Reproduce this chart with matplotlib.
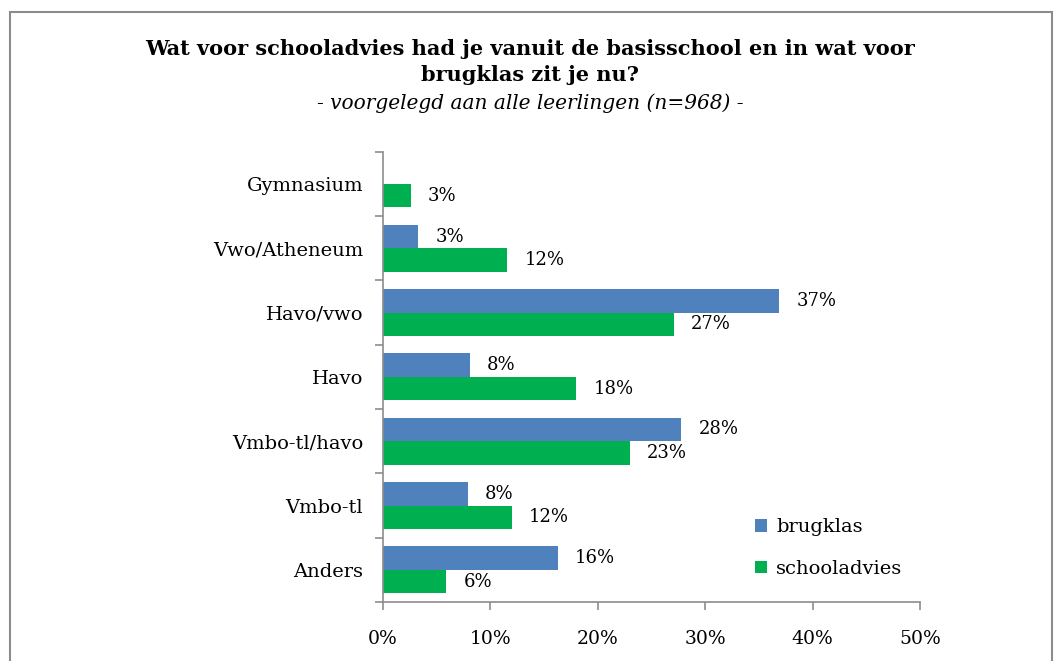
import matplotlib.pyplot as plt
import numpy as np
from matplotlib.patches import Rectangle

categories = ['Gymnasium', 'Vwo/Atheneum', 'Havo/vwo', 'Havo', 'Vmbo-tl/havo', 'Vmbo-tl', 'Anders']
brugklas = [np.nan, 3.3, 36.9, 8.1, 27.8, 7.9, 16.3]
schooladvies = [2.6, 11.6, 27.1, 18.0, 23.0, 12.0, 5.9]
xticks = [0, 10, 20, 30, 40, 50]

plt.rcParams['font.family'] = ['DejaVu Serif']

fig = plt.figure(figsize=(10.63, 6.61), dpi=100)
ax = fig.add_axes([0.360, 0.0893, 0.5055, 0.681])

# chart frame
fig.patches.append(Rectangle((10 / 1063, -0.1), 1042 / 1063, 1.1 - 12 / 661,
                             transform=fig.transFigure, fill=False,
                             edgecolor='#8c8c8c', linewidth=1.5))

n = len(categories)
y = np.arange(n)
h = 0.365
blue = '#4F81BD'
green = '#00B050'

ax.barh(y - h / 2, brugklas, h, color=blue, label='brugklas')
ax.barh(y + h / 2, schooladvies, h, color=green, label='schooladvies')

for yy, v in zip(y, brugklas):
    if not np.isnan(v):
        ax.text(v + 1.6, yy - h / 2, '%d%%' % round(v), va='center', ha='left', fontsize=13)
for yy, v in zip(y, schooladvies):
    ax.text(v + 1.6, yy + h / 2, '%d%%' % round(v), va='center', ha='left', fontsize=13)

ax.set_ylim(n - 0.5, -0.5)
ax.set_xlim(0, 50)
ax.set_yticks(np.arange(n + 1) - 0.5)
ax.set_yticklabels([])
ax.set_yticks(y, minor=True)
ax.set_yticklabels(categories, minor=True, fontsize=14)
ax.tick_params(axis='y', which='minor', length=0, pad=14)
ax.tick_params(axis='y', which='major', length=6, color='#8c8c8c', width=1.2)
ax.set_xticks(xticks)
ax.set_xticklabels(['%d%%' % t for t in xticks], fontsize=13.5)
ax.tick_params(axis='x', length=6, color='#8c8c8c', width=1.2, pad=14)

for s in ['top', 'right']:
    ax.spines[s].set_visible(False)
for s in ['left', 'bottom']:
    ax.spines[s].set_color('#8c8c8c')
    ax.spines[s].set_linewidth(1.2)

ax.legend(loc='lower right', bbox_to_anchor=(1.0, 0.015), frameon=False, fontsize=14,
          handlelength=0.6, handleheight=0.6, handletextpad=0.5, labelspacing=1.2)

fig.text(0.499, 0.906, 'Wat voor schooladvies had je vanuit de basisschool en in wat voor\nbrugklas zit je nu?',
         ha='center', va='center', fontsize=15, fontweight='bold', linespacing=1.35)
fig.text(0.499, 0.844, '- voorgelegd aan alle leerlingen (n=968) -', ha='center', va='center',
         fontsize=14.5, style='italic')

fig.savefig('out.png', dpi=100)
